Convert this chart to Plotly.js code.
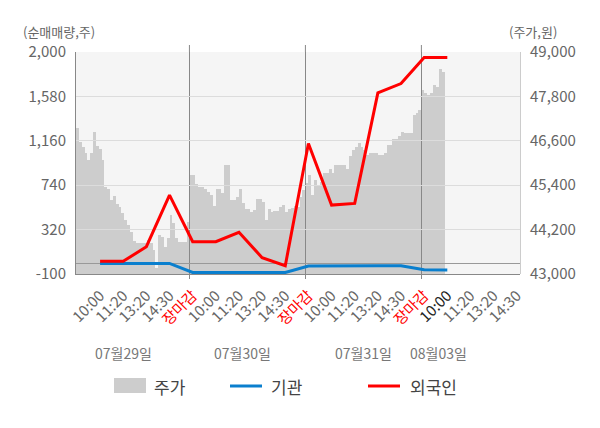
<!DOCTYPE html>
<html>
<head>
<meta charset="utf-8">
<script src="https://cdn.plot.ly/plotly-3.0.1.min.js"></script>
<style>
  html, body { margin: 0; padding: 0; background: #fff; }
  #chart { width: 600px; height: 428px; }
</style>
</head>
<body>
<div id="chart"></div>
<script>
// x tick labels (category slots 0..18)
const tickLabels = ['10:00', '11:20', '13:20', '14:30', '장마감',
                    '10:00', '11:20', '13:20', '14:30', '장마감',
                    '10:00', '11:20', '13:20', '14:30', '장마감',
                    '10:00', '11:20', '13:20', '14:30'];
const dayLabels = ['07월29일', '07월30일', '07월31일', '08월03일'];

// net buying (주), one value per slot
const foreign = [20, 20, 158, 646, 205, 205, 294, 54, -22, 1135, 552, 568, 1613, 1701, 1947, 1947];
const inst = [0, 0, 0, 0, -86, -86, -86, -86, -86, -25, -22, -22, -22, -22, -60, -62];

const priceDay1 = [46950, 46570, 46440, 46275, 46080, 46270, 46840, 46450, 46390, 46080,
                   45360, 45290, 45000, 45100, 44900, 44820, 44640, 44450, 44320, 44140,
                   43900, 43830, 43830, 43830, 43830, 43920, 43830, 43650, 43150, 44050,
                   44000, 43740, 43960, 44600, 44370, 43960, 43870, 43870, 43870, 44410];
const priceDay2 = [45670, 45670, 45420, 45360, 45360, 45300, 45220, 45130, 44850, 45290,
                   45290, 45200, 45940, 45940, 45000, 45000, 45070, 45290, 44910, 44770,
                   44770, 44680, 44730, 45040, 45040, 44950, 44460, 44760, 44680, 44700,
                   44700, 44820, 44860, 44680, 44760, 44790, 44840, 44820, 45090, 45270];
const priceDay3 = [45450, 45670, 45130, 45540, 45400, 45500, 45720, 45720, 45850, 45720,
                   45940, 45940, 45940, 45940, 45850, 46190, 46350, 46440, 46530, 46440,
                   46350, 46210, 46260, 46260, 46260, 46210, 46210, 46260, 46480, 46480,
                   46660, 46660, 46730, 46840, 46800, 46800, 46800, 47300, 47350, 47430];
const priceDay4 = [47970, 47900, 47850, 47880, 48100, 48060, 48550, 48460];

const volTicks = [-100, 320, 740, 1160, 1580, 2000];
const volTickText = ['-100', '320', '740', '1,160', '1,580', '2,000'];
const priceTicks = [43000, 44200, 45400, 46600, 47800, 49000];

// axis geometry
const xRange = [-1.04, 18.14];
const dayBreaks = [3.86, 8.87, 13.88];
const dayLabelX = [1.0, 6.15, 11.37, 14.61];
const daySpan = dayBreaks[1] - dayBreaks[0];

// spread each day's samples over its slot span
const priceX = [], priceY = [], priceW = [];
const days = [priceDay1, priceDay2, priceDay3, priceDay4];
const dayStarts = [xRange[0], dayBreaks[0], dayBreaks[1], dayBreaks[2]];
days.forEach((vals, d) => {
  const span = d === 0 ? dayBreaks[0] - xRange[0] : daySpan;
  const step = span / 40;
  vals.forEach((v, k) => {
    priceX.push(dayStarts[d] + step * (k + 0.5));
    priceY.push(v);
    priceW.push(step * 1.02);
  });
});

const slots = foreign.map((_, i) => i);

const tickText = tickLabels.map((t, i) => {
  let c = '#666';
  if (t === '장마감') c = '#ff0000';
  else if (i === 15) c = '#222';
  return '<span style="color:' + c + '">' + t + '</span>';
});

const traces = [
  {
    type: 'bar', x: priceX, y: priceY, width: priceW,
    xaxis: 'x', yaxis: 'y',
    marker: {color: '#cdcdcd', line: {width: 0}},
    hoverinfo: 'skip', name: '주가'
  },
  {
    type: 'scatter', mode: 'lines', x: slots, y: inst,
    xaxis: 'x2', yaxis: 'y2',
    line: {color: '#0a7fce', width: 3}, name: '기관'
  },
  {
    type: 'scatter', mode: 'lines', x: slots, y: foreign,
    xaxis: 'x2', yaxis: 'y2',
    line: {color: '#ff0000', width: 3}, name: '외국인'
  }
];

const PW = 444, PH = 222;          // plot area in px
const px = v => (v - 76) / PW;     // page x -> paper
const py = v => (274 - v) / PH;    // page y -> paper

const font = '"Noto Sans CJK KR", "Noto Sans", sans-serif';

const annotations = [
  {text: '(순매매량,주)', xref: 'paper', yref: 'paper', x: px(22), y: py(31),
   xanchor: 'left', yanchor: 'middle', showarrow: false, borderpad: 0,
   font: {size: 13, color: '#666'}},
  {text: '(주가,원)', xref: 'paper', yref: 'paper', x: px(508), y: py(31),
   xanchor: 'left', yanchor: 'middle', showarrow: false, borderpad: 0,
   font: {size: 13, color: '#666'}}
];
dayLabels.forEach((t, i) => {
  annotations.push({text: t, xref: 'x', yref: 'paper', x: dayLabelX[i], y: py(353),
    xanchor: 'center', yanchor: 'middle', showarrow: false, font: {size: 14, color: '#777'}});
});
const legendText = [['주가', 152], ['기관', 269], ['외국인', 408]];
legendText.forEach(([t, x]) => {
  annotations.push({text: t, xref: 'paper', yref: 'paper', x: px(x), y: py(386),
    xanchor: 'left', yanchor: 'middle', showarrow: false, font: {size: 17, color: '#444'}});
});

const shapes = [
  // plot background, under everything
  {type: 'rect', xref: 'paper', yref: 'paper', x0: 0, x1: 1, y0: 0, y1: 1,
   fillcolor: '#f5f5f5', line: {width: 0}, layer: 'below'},
  // legend swatches
  {type: 'rect', xref: 'paper', yref: 'paper', x0: px(114), x1: px(146), y0: py(393), y1: py(378),
   fillcolor: '#cdcdcd', line: {width: 0}},
  {type: 'line', xref: 'paper', yref: 'paper', x0: px(230), x1: px(262), y0: py(386), y1: py(386),
   line: {color: '#0a7fce', width: 3}},
  {type: 'line', xref: 'paper', yref: 'paper', x0: px(368), x1: px(400), y0: py(386), y1: py(386),
   line: {color: '#ff0000', width: 3}}
];
// day separators poke a little above the plot
dayBreaks.forEach(b => {
  shapes.push({type: 'line', xref: 'x2', yref: 'paper', x0: b, x1: b, y0: 1, y1: py(45),
    line: {color: '#888', width: 1}});
});

const layout = {
  width: 600, height: 428,
  margin: {l: 76, r: 80, t: 52, b: 154},
  paper_bgcolor: '#fff',
  plot_bgcolor: 'rgba(0,0,0,0)',
  showlegend: false,
  font: {family: font, size: 15, color: '#666'},
  bargap: 0,
  xaxis: {
    domain: [0, 1], anchor: 'y', range: xRange,
    tickvals: slots.concat([16, 17, 18]), ticktext: tickText, tickangle: -45,
    showgrid: false, zeroline: false, showline: false,
    ticks: 'outside', ticklen: 6, tickcolor: 'rgba(0,0,0,0)',
    tickfont: {size: 15}, fixedrange: true
  },
  yaxis: {
    anchor: 'x', side: 'right', range: [43000, 49000],
    tickvals: priceTicks, tickformat: ',d',
    showgrid: false, zeroline: false, showline: true, linecolor: '#ccc',
    ticks: 'outside', ticklen: 6, tickcolor: 'rgba(0,0,0,0)', fixedrange: true
  },
  xaxis2: {
    domain: [0, 1], anchor: 'y2', range: xRange,
    tickvals: dayBreaks, showticklabels: false,
    showgrid: true, gridcolor: '#888', gridwidth: 1, zeroline: false,
    ticks: 'outside', ticklen: 4, tickcolor: '#888',
    showline: true, linecolor: '#888', fixedrange: true
  },
  yaxis2: {
    anchor: 'x2', side: 'left', range: [-100, 2000],
    tickvals: volTicks, ticktext: volTickText,
    showgrid: true, gridcolor: '#dcdcdc', gridwidth: 1,
    zeroline: true, zerolinecolor: '#999', zerolinewidth: 1,
    showline: true, linecolor: '#888',
    ticks: 'outside', ticklen: 6, tickcolor: 'rgba(0,0,0,0)', fixedrange: true
  },
  annotations: annotations,
  shapes: shapes
};

Plotly.newPlot('chart', traces, layout, {displayModeBar: false, staticPlot: true});
</script>
</body>
</html>
